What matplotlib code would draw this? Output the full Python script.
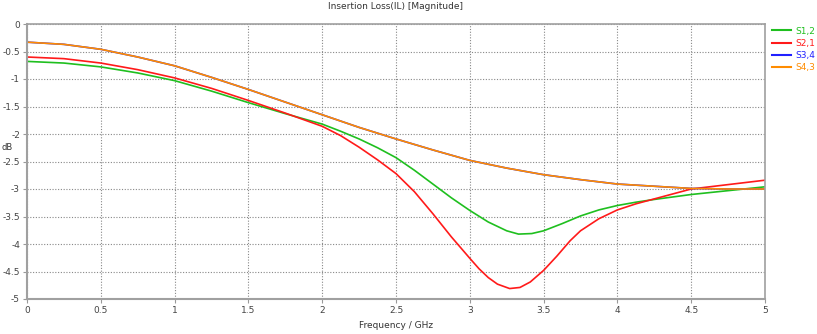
import matplotlib
matplotlib.use("Agg")
import matplotlib.pyplot as plt
from matplotlib.lines import Line2D

# ---- data ----
freq_o = [0, 0.25, 0.5, 0.75, 1.0, 1.25, 1.5, 1.75, 2.0, 2.25, 2.5, 2.75, 3.0,
          3.25, 3.5, 3.75, 4.0, 4.25, 4.5, 4.75, 5.0]
s43 = [-0.33, -0.37, -0.46, -0.60, -0.76, -0.97, -1.19, -1.42, -1.65, -1.88,
       -2.09, -2.29, -2.48, -2.62, -2.74, -2.83, -2.91, -2.95, -2.99, -3.00, -3.00]
s34 = list(s43)

freq_g = [0, 0.25, 0.5, 0.75, 1.0, 1.25, 1.5, 1.75, 2.0, 2.125, 2.25, 2.375, 2.5,
          2.625, 2.75, 2.875, 3.0, 3.125, 3.25, 3.33, 3.42, 3.5, 3.625, 3.75,
          3.875, 4.0, 4.125, 4.25, 4.5, 4.75, 5.0]
s12 = [-0.68, -0.71, -0.78, -0.89, -1.03, -1.22, -1.43, -1.63, -1.82, -1.95,
       -2.09, -2.25, -2.43, -2.66, -2.91, -3.16, -3.39, -3.60, -3.76, -3.82,
       -3.81, -3.76, -3.63, -3.49, -3.38, -3.30, -3.24, -3.19, -3.10, -3.03, -2.96]

freq_r = [0, 0.25, 0.5, 0.75, 1.0, 1.25, 1.5, 1.75, 2.0, 2.125, 2.25, 2.375, 2.5,
          2.625, 2.75, 2.875, 3.0, 3.0625, 3.125, 3.1875, 3.27, 3.34, 3.41, 3.5,
          3.59, 3.68, 3.75, 3.875, 4.0, 4.125, 4.25, 4.5, 4.75, 5.0]
s21 = [-0.60, -0.63, -0.71, -0.83, -0.98, -1.17, -1.39, -1.62, -1.86, -2.03,
       -2.24, -2.47, -2.72, -3.05, -3.45, -3.87, -4.26, -4.45, -4.61, -4.73,
       -4.81, -4.79, -4.69, -4.48, -4.22, -3.94, -3.76, -3.54, -3.38, -3.27,
       -3.18, -3.00, -2.92, -2.84]

labels = ["S1,2", "S2,1", "S3,4", "S4,3"]
colors = ["#1fbf1f", "#ff1a1a", "#2020ff", "#ff8c00"]

xticks = [0, 0.5, 1, 1.5, 2, 2.5, 3, 3.5, 4, 4.5, 5]
xticklabels = ["0", "0.5", "1", "1.5", "2", "2.5", "3", "3.5", "4", "4.5", "5"]
yticks = [0, -0.5, -1, -1.5, -2, -2.5, -3, -3.5, -4, -4.5, -5]
yticklabels = ["0", "-0.5", "-1", "-1.5", "-2", "-2.5", "-3", "-3.5", "-4", "-4.5", "-5"]

W, H = 817, 334
fig = plt.figure(figsize=(W / 100, H / 100), dpi=100)
ax = fig.add_axes([27 / W, 1 - 299 / H, (765 - 27) / W, (299 - 24) / H])

ax.plot(freq_g, s12, color=colors[0], lw=1.2, label=labels[0])
ax.plot(freq_r, s21, color=colors[1], lw=1.2, label=labels[1])
ax.plot(freq_o, s34, color=colors[2], lw=1.2, label=labels[2])
ax.plot(freq_o, s43, color=colors[3], lw=1.2, label=labels[3])

ax.set_xlim(0, 5)
ax.set_ylim(-5, 0)
ax.set_xticks(xticks)
ax.set_xticklabels(xticklabels)
ax.set_yticks(yticks)
ax.set_yticklabels(yticklabels)
ax.tick_params(axis="both", labelsize=6.5, colors="#999999", labelcolor="#444444",
               length=3, width=0.8, pad=2)
ax.grid(True, color="#888888", linestyle=(0, (1, 1.5)), linewidth=0.8)
for side, sp in ax.spines.items():
    sp.set_color("#a0a0a0")
    sp.set_linewidth(1.5 if side in ("left", "bottom") else 1.2)

ax.set_title("Insertion Loss(IL) [Magnitude]", fontsize=6.5, color="#333333", pad=11)
ax.set_xlabel("Frequency / GHz", fontsize=6.5, color="#333333", labelpad=4)
fig.text(1 / W, 1 - 147 / H, "dB", fontsize=6, color="#333333", va="center", ha="left")

# legend
handles = [Line2D([0], [0], color=c, lw=1.5) for c in colors]
leg = fig.legend(handles, labels, loc="upper left", bbox_to_anchor=(768 / W, 1 - 23 / H),
                 frameon=False, fontsize=6.5, handlelength=2.2, handletextpad=0.4,
                 labelspacing=0.35, borderaxespad=0)
for t, c in zip(leg.get_texts(), colors):
    t.set_color(c)

fig.savefig("out.png", dpi=100)
